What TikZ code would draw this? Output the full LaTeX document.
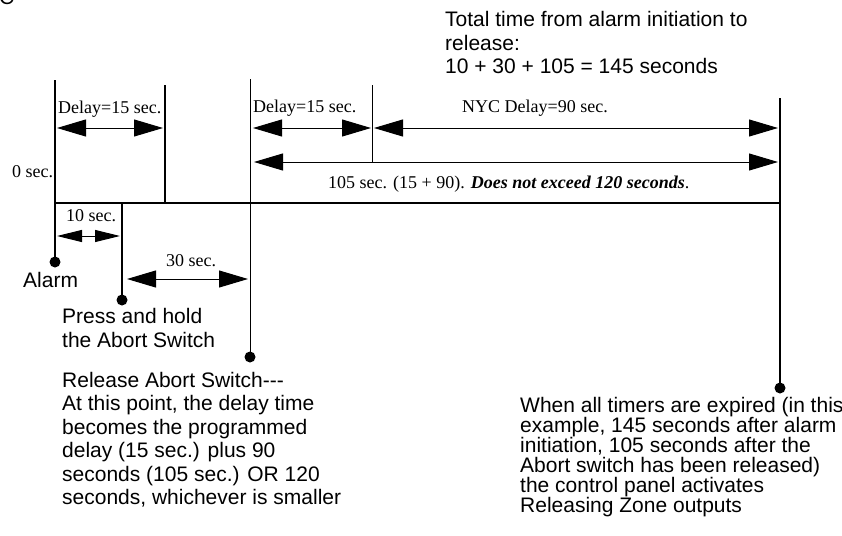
\documentclass[tikz,border=0pt]{standalone}
\usepackage{fontspec}
\setmainfont{Liberation Serif}
\newfontfamily\sansf{Liberation Sans}
\usetikzlibrary{arrows.meta}
\newcommand\Lines[2]{\vtop{\baselineskip=#1pt\lineskiplimit=-100pt\lineskip=0pt #2}}
\begin{document}
\begin{tikzpicture}[x=1pt,y=-1pt,
  thickline/.style={line width=2pt},
  thinline/.style={line width=0.9pt},
  dimarrow/.style={line width=1pt,{Triangle[length=29pt,width=17pt]}-{Triangle[length=29pt,width=17pt]}},
  dimsmall/.style={line width=1pt,{Triangle[length=25pt,width=12pt]}-{Triangle[length=25pt,width=12pt]}},
  dotnode/.style={circle,fill=black,inner sep=0pt,minimum size=11pt},
  serif/.style={font=\fontsize{18}{20}\selectfont,inner sep=0pt,anchor=base west},
  sans/.style={font=\sansf\fontsize{21}{23.5}\selectfont,inner sep=0pt,anchor=base west},
]
\useasboundingbox (0,0) rectangle (842,535);

% clipped letter at the top left
\node[sans] (cut) at (-1,4.5) {C};

% texts
\node[sans] (total) at (445,27) {\Lines{23.5}{\hbox{Total time from alarm initiation to}\hbox{release:}\hbox{10 + 30 + 105 = 145 seconds}}};
\node[sans] (alarm) at (23,287) {Alarm};
\node[sans] (press) at (62,323) {\Lines{24}{\hbox{Press and hold}\hbox{the Abort Switch}}};
\node[sans] (release) at (62,387) {\Lines{23.5}{\hbox{Release Abort Switch---}\hbox{At this point, the delay time}\hbox{becomes the programmed}\hbox{delay (15 sec.) plus 90}\hbox{seconds (105 sec.) OR 120}\hbox{seconds, whichever is smaller}}};
\node[sans] (expire) at (520,412) {\Lines{20}{\hbox{When all timers are expired (in this}\hbox{example, 145 seconds after alarm}\hbox{initiation, 105 seconds after the}\hbox{Abort switch has been released)}\hbox{the control panel activates}\hbox{Releasing Zone outputs}}};

\node[serif] (delayA) at (58,113) {Delay=15 sec.};
\node[serif] (delayB) at (253,112) {Delay=15 sec.};
\node[serif] (nyc) at (462,112) {NYC Delay=90 sec.};
\node[serif] (zero) at (12,177) {0 sec.};
\node[serif] (sum) at (328,188) {105 sec. (15 + 90). \textbf{\textit{Does not exceed 120 seconds}}.};
\node[serif] (ten) at (66,221) {10 sec.};
\node[serif] (thirty) at (166,266) {30 sec.};

% vertical lines and dots
\coordinate (aTop) at (55,80);
\node[dotnode] (aDot) at (55,262) {};
\draw[thickline] (aTop) -- (aDot.center);

\coordinate (dTop) at (165,85);
\coordinate (dBot) at (165,203);
\draw[thickline] (dTop) -- (dBot);

\coordinate (hL) at (55,203);
\coordinate (hR) at (781,203);
\draw[thickline] (hL) -- (hR);

\coordinate (pTop) at (122,203);
\node[dotnode] (pDot) at (122,300) {};
\draw[thickline] (pTop) -- (pDot.center);

\coordinate (rTop) at (250,79);
\node[dotnode] (rDot) at (250,357) {};
\draw[thinline] (rTop) -- (rDot.center);

\coordinate (nTop) at (372,85);
\coordinate (nBot) at (372,162);
\draw[thinline] (nTop) -- (nBot);

\coordinate (eTop) at (780,98);
\node[dotnode] (eDot) at (780,388) {};
\draw[thickline] (eTop) -- (eDot.center);

% dimension arrows
\coordinate (a1l) at (57,128);  \coordinate (a1r) at (163,128);
\draw[dimarrow] (a1l) -- (a1r);
\coordinate (a2l) at (253,128); \coordinate (a2r) at (371,128);
\draw[dimarrow] (a2l) -- (a2r);
\coordinate (a3l) at (374,128); \coordinate (a3r) at (778,128);
\draw[dimarrow] (a3l) -- (a3r);
\coordinate (a4l) at (254,162); \coordinate (a4r) at (778,162);
\draw[dimarrow] (a4l) -- (a4r);
\coordinate (a5l) at (57,236);  \coordinate (a5r) at (120,236);
\draw[dimsmall] (a5l) -- (a5r);
\coordinate (a6l) at (127,279); \coordinate (a6r) at (248,279);
\draw[dimarrow] (a6l) -- (a6r);
\end{tikzpicture}
\end{document}
